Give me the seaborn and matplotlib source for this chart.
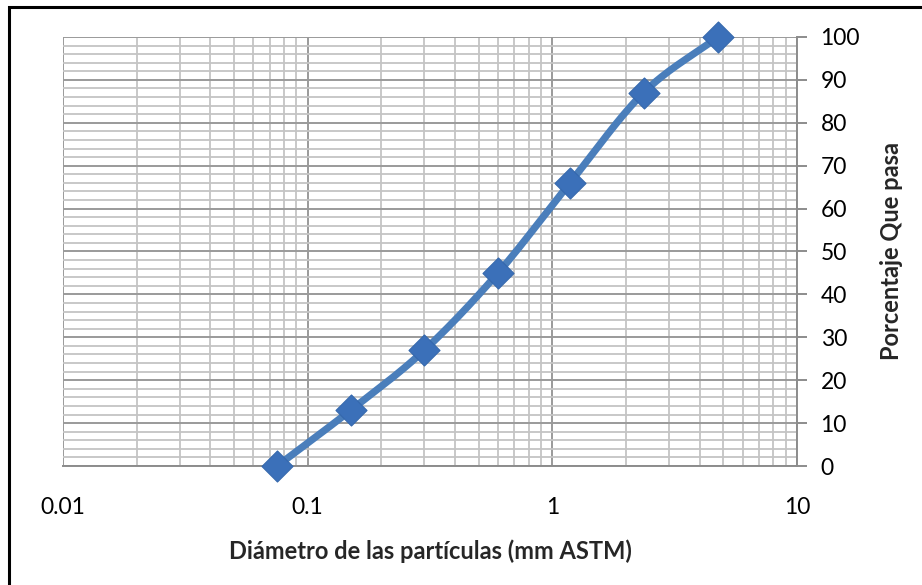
import numpy as np
import pandas as pd
import matplotlib
matplotlib.use("Agg")
import matplotlib.pyplot as plt
from matplotlib.ticker import FixedLocator, MultipleLocator, NullFormatter
import seaborn as sns

# Data
diametro = [0.075, 0.15, 0.3, 0.6, 1.18, 2.36, 4.75]
porcentaje = [0, 13, 27, 45, 66, 87, 100]
x_ticks = [0.01, 0.1, 1, 10]
x_tick_labels = ["0.01", "0.1", "1", "10"]
y_ticks = [0, 10, 20, 30, 40, 50, 60, 70, 80, 90, 100]
x_label = "Diámetro de las partículas (mm ASTM)"
y_label = "Porcentaje Que pasa"

sns.set_theme(style="white")
plt.rcParams["font.family"] = ["Lato", "DejaVu Sans"]

fig = plt.figure(figsize=(9.22, 5.85), dpi=100)
ax = fig.add_axes([0.0683, 0.2034, 0.7961, 0.7334])

# Smoothed (Catmull-Rom in log-x space) display curve from data
lx = np.log10(diametro)
py = np.array(porcentaje, dtype=float)
P = np.column_stack([lx, py])
P_ext = np.vstack([2 * P[0] - P[1], P, 2 * P[-1] - P[-2]])
curve = []
for i in range(1, len(P_ext) - 2):
    p0, p1, p2, p3 = P_ext[i - 1], P_ext[i], P_ext[i + 1], P_ext[i + 2]
    for t in np.linspace(0, 1, 30):
        t2, t3 = t * t, t * t * t
        pt = 0.5 * ((2 * p1) + (-p0 + p2) * t + (2 * p0 - 5 * p1 + 4 * p2 - p3) * t2
                    + (-p0 + 3 * p1 - 3 * p2 + p3) * t3)
        curve.append(pt)
curve = np.array(curve)
smooth = pd.DataFrame({"x": 10 ** curve[:, 0], "y": curve[:, 1]})
df = pd.DataFrame({"x": diametro, "y": porcentaje})

ax.set_xscale("log")
ax.set_xlim(0.01, 10)
ax.set_ylim(0, 100)

# Grid
ax.xaxis.set_major_locator(FixedLocator(x_ticks))
ax.xaxis.set_minor_locator(FixedLocator([m * d for d in [0.01, 0.1, 1] for m in range(2, 10)]))
ax.xaxis.set_minor_formatter(NullFormatter())
ax.set_xticklabels(x_tick_labels)
ax.yaxis.set_major_locator(FixedLocator(y_ticks))
ax.yaxis.set_minor_locator(MultipleLocator(2))
ax.grid(which="major", color="#9a9a9a", linewidth=1.4, zorder=0)
ax.grid(which="minor", color="#c4c4c4", linewidth=1.3, zorder=0)
ax.set_axisbelow(True)

line = sns.lineplot(data=smooth, x="x", y="y", ax=ax, color="#4a7ebb", linewidth=5.2,
                    sort=False, estimator=None, zorder=3)
for l in ax.lines:
    l.set_clip_on(False)
    l.set_solid_capstyle("round")
sc = sns.scatterplot(data=df, x="x", y="y", ax=ax, marker="D", s=250, color="#3b70b9",
                     edgecolor="#3568ad", linewidth=0.8, zorder=4)
for c in ax.collections:
    c.set_clip_on(False)

# Axes styling
for s in ["left", "top"]:
    ax.spines[s].set_visible(False)
for s in ["right", "bottom"]:
    ax.spines[s].set_color("#8c8c8c")
    ax.spines[s].set_linewidth(1.4)
ax.yaxis.tick_right()
ax.yaxis.set_label_position("right")
ax.tick_params(axis="both", which="major", direction="out", length=7, width=1.4,
               color="#8c8c8c", labelsize=16.5, labelcolor="black")
ax.tick_params(axis="x", which="major", pad=15)
ax.tick_params(axis="y", which="major", pad=10)
ax.tick_params(axis="both", which="minor", length=0)
ax.set_xlabel(x_label, fontsize=17, fontweight="bold", labelpad=16)
ax.set_ylabel(y_label, fontsize=17, fontweight="bold", labelpad=14)

# Outer frame (left/top visible)
fig.patches.append(plt.Rectangle((9 / 922, -0.05), 1.2, 1.05 - 7 / 585,
                                 transform=fig.transFigure, fill=False,
                                 edgecolor="black", linewidth=2.2))

fig.savefig("out.png", dpi=100)
